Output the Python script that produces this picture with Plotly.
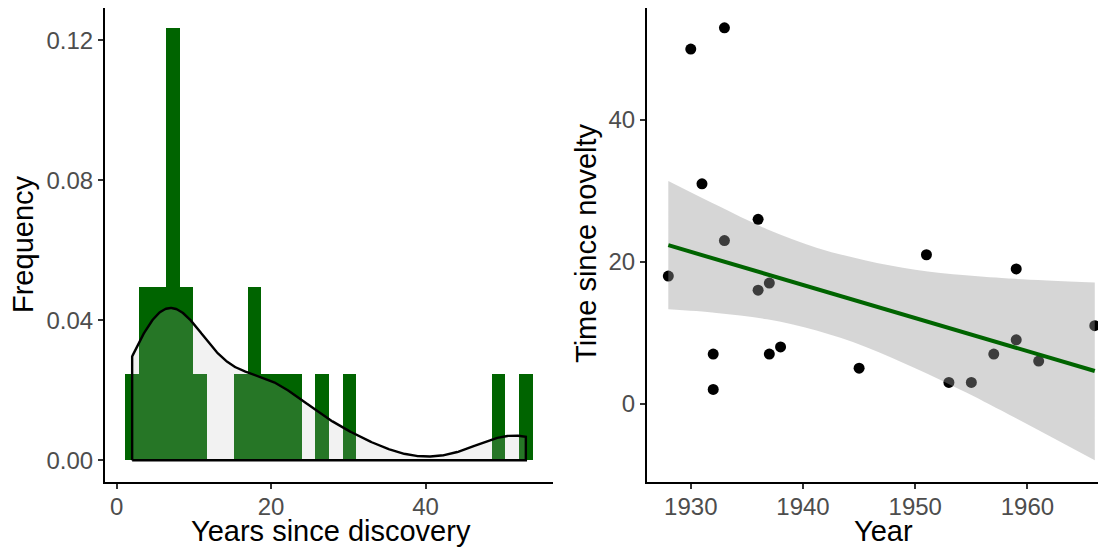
import numpy as np
import plotly.graph_objects as go

# histogram data: years since discovery
discovery_gap = [2, 3, 3, 5, 6, 7, 7, 7, 7, 8, 9, 9, 11, 16, 17, 18, 19, 21, 23, 26, 31, 50, 53]

# scatter data: year vs time since novelty
novelty_year = [1928, 1930, 1931, 1932, 1932, 1933, 1933, 1936, 1936, 1937, 1937,
                1938, 1945, 1951, 1953, 1955, 1957, 1959, 1959, 1961, 1966]
novelty_time = [18, 50, 31, 7, 2, 53, 23, 26, 16, 17, 7,
                8, 5, 21, 3, 3, 7, 19, 9, 6, 11]

# linear fit and 95% band
fit_year = [1928, 1932.3, 1936.8, 1941.2, 1945.6, 1950, 1954.5, 1958.9, 1966]
fit_lo = [13.3, 12.8, 11.9, 10.3, 8.0, 5.0, 1.6, -2.0, -8.0]
fit_hi = [31.4, 28.0, 24.6, 22.0, 20.2, 18.9, 18.1, 17.6, 17.1]
fit_line_year = [1928, 1966]
fit_line_val = [22.35, 4.6]

GREEN = "#006400"
FONT = "Liberation Sans, Arial, sans-serif"
TICK_SIZE = 24
TITLE_SIZE = 29
W, H = 1106, 550
OFF = 8  # page margin of the browser
FW, FH = W - OFF, H - OFF


def px_x(p):
    return (p - OFF) / FW


def px_y(p):
    return 1 - (p - OFF) / FH


v = np.array(discovery_gap, dtype=float)
n = len(v)
# ggplot default of 30 bins centred on the min
bw_bin = (v.max() - v.min()) / 29
bin_start = v.min() - bw_bin / 2
bin_end = v.max() + bw_bin / 2

# gaussian kde, bandwidth nrd0
q75, q25 = np.percentile(v, [75, 25])
bw = 0.9 * min(v.std(ddof=1), (q75 - q25) / 1.34) * n ** -0.2
grid = np.linspace(v.min(), v.max(), 512)
dens = np.exp(-0.5 * ((grid[:, None] - v[None, :]) / bw) ** 2).sum(axis=1) / (n * bw * np.sqrt(2 * np.pi))

dens_x = np.concatenate([[grid[0]], grid, [grid[-1], grid[0]]])
dens_y = np.concatenate([[0], dens, [0, 0]])

fig = go.Figure()

fig.add_trace(go.Histogram(
    x=discovery_gap,
    xbins=dict(start=bin_start, end=bin_end, size=bw_bin),
    histnorm="probability density",
    marker=dict(color=GREEN, line=dict(width=0)),
    xaxis="x", yaxis="y",
))
fig.add_trace(go.Scatter(
    x=dens_x, y=dens_y, mode="lines",
    fill="toself", fillcolor="rgba(191,191,191,0.2)",
    line=dict(color="black", width=2.4),
    xaxis="x", yaxis="y",
))

fig.add_trace(go.Scatter(
    x=novelty_year, y=novelty_time, mode="markers",
    marker=dict(color="black", size=11, line=dict(width=0)),
    xaxis="x2", yaxis="y2",
))
fig.add_trace(go.Scatter(
    x=fit_year, y=fit_lo, mode="lines",
    line=dict(width=0, shape="spline"),
    xaxis="x2", yaxis="y2",
))
fig.add_trace(go.Scatter(
    x=fit_year, y=fit_hi, mode="lines",
    line=dict(width=0, shape="spline"),
    fill="tonexty", fillcolor="rgba(153,153,153,0.4)",
    xaxis="x2", yaxis="y2",
))
fig.add_trace(go.Scatter(
    x=fit_line_year, y=fit_line_val, mode="lines",
    line=dict(color=GREEN, width=4),
    xaxis="x2", yaxis="y2",
))

axis_common = dict(
    showgrid=False, zeroline=False, showline=True,
    linecolor="black", linewidth=2,
    ticks="outside", ticklen=5, tickwidth=1.5, tickcolor="#333333",
    tickfont=dict(family=FONT, size=TICK_SIZE, color="#4D4D4D"),
)

fig.update_layout(
    width=FW, height=FH,
    margin=dict(l=0, r=0, t=0, b=0),
    paper_bgcolor="white", plot_bgcolor="white",
    showlegend=False,
    bargap=0,
    xaxis=dict(domain=[px_x(105), px_x(553)], range=[-1.517, 56.517],
               tickvals=[0, 20, 40], anchor="y", ticklabelstandoff=-3, **axis_common),
    yaxis=dict(domain=[px_y(482), 1], range=[-0.0062, 0.1292],
               tickvals=[0, 0.04, 0.08, 0.12], tickformat=".2f", anchor="x", **axis_common),
    xaxis2=dict(domain=[px_x(647), 1], range=[1926.1, 1967.0],
                tickvals=[1930, 1940, 1950, 1960], anchor="y2", ticklabelstandoff=-3, **axis_common),
    yaxis2=dict(domain=[px_y(482), 1], range=[-11.05, 55.8],
                tickvals=[0, 20, 40], anchor="x2", **axis_common),
)

title_font = dict(family=FONT, size=TITLE_SIZE, color="black")
titles = [
    ("Years since discovery", 331, 531, 0),
    ("Frequency", 23, 244, -90),
    ("Year", 883, 531, 0),
    ("Time since novelty", 586, 243, -90),
]
for text, px, py, ang in titles:
    fig.add_annotation(
        text=text, x=px_x(px), y=px_y(py), xref="paper", yref="paper",
        xanchor="center", yanchor="middle", textangle=ang,
        showarrow=False, font=title_font,
    )

fig.write_html("out.html")
